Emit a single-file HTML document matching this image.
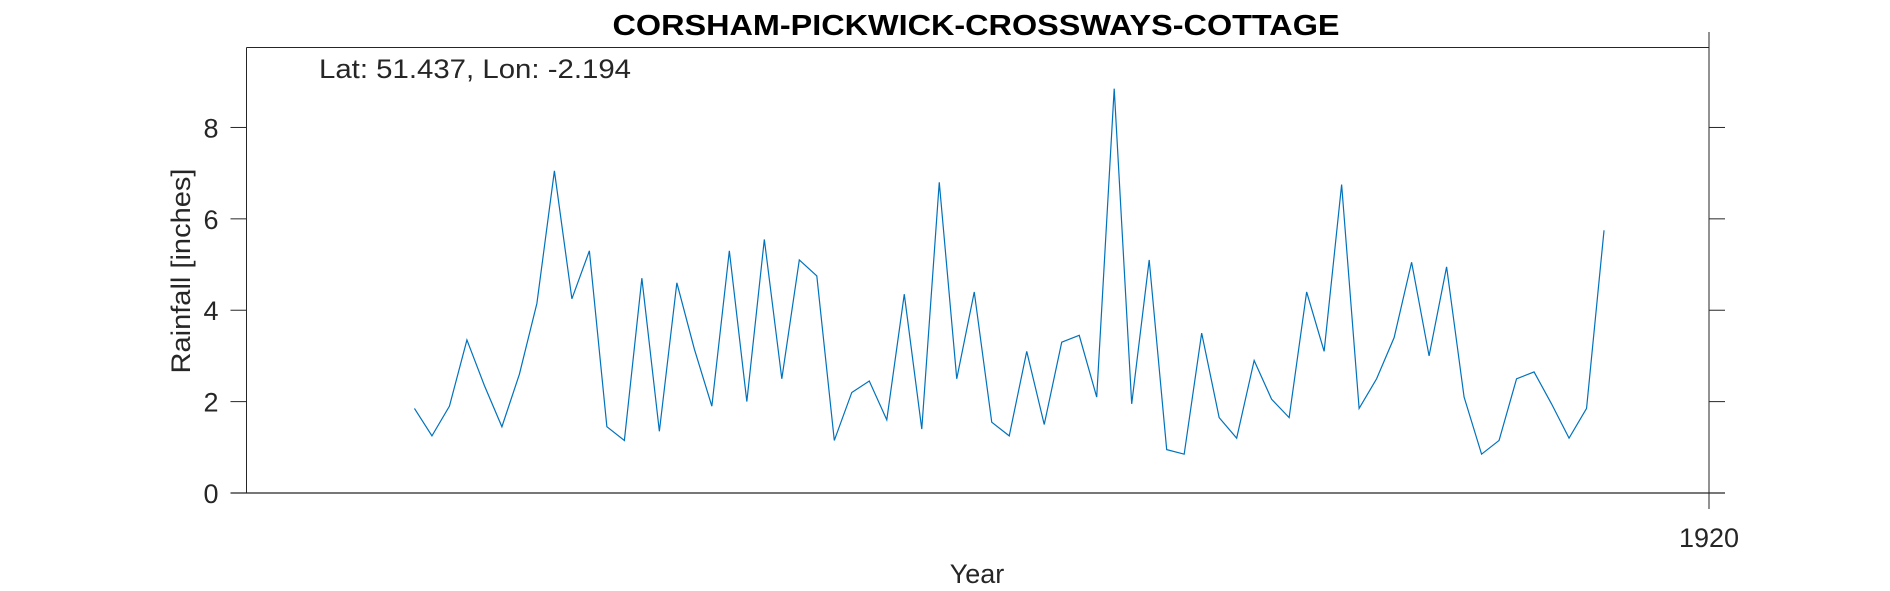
<!DOCTYPE html>
<html><head><meta charset="utf-8"><style>body{margin:0;background:#fff}svg{display:block}text{font-family:"Liberation Sans",Arial,sans-serif;fill:#262626}</style></head>
<body>
<svg id="chart" width="1890" height="591">
<text x="976" y="35" text-anchor="middle" font-size="29" font-weight="bold" style="fill:#000" textLength="727" lengthAdjust="spacingAndGlyphs">CORSHAM-PICKWICK-CROSSWAYS-COTTAGE</text>
<g id="axes"></g>
<text x="319" y="78" font-size="27" textLength="312" lengthAdjust="spacingAndGlyphs">Lat: 51.437, Lon: -2.194</text>
<text transform="translate(190,271) rotate(-90)" text-anchor="middle" font-size="27" textLength="205" lengthAdjust="spacingAndGlyphs">Rainfall [inches]</text>
<text x="977" y="583" text-anchor="middle" font-size="27">Year</text>
</svg>
<script>
const years=[];for(let y=1846;y<=1914;y++)years.push(y);
const rainfall=[1.85,1.25,1.9,3.35,2.35,1.45,2.6,4.15,7.05,4.25,5.3,1.45,1.15,4.7,1.35,4.6,3.15,1.9,5.3,2.0,5.55,2.5,5.1,4.75,1.15,2.2,2.45,1.6,4.35,1.4,6.8,2.5,4.4,1.55,1.25,3.1,1.5,3.3,3.45,2.1,8.85,1.95,5.1,0.95,0.85,3.5,1.65,1.2,2.9,2.05,1.65,4.4,3.1,6.75,1.85,2.5,3.4,5.05,3.0,4.95,2.1,0.85,1.15,2.5,2.65,1.95,1.2,1.85,5.75];
const yTicks=[0,2,4,6,8];
const xTicks=[1920];
const L=246.5,R=1709,T=47.5,B=493,xmin=1836.4,xmax=1920,ymax=9.75;
const X=v=>L+(v-xmin)/(xmax-xmin)*(R-L);
const Y=v=>B-v/ymax*(B-T);
const NS='http://www.w3.org/2000/svg';
const g=document.getElementById('axes');
function mk(t,a){const e=document.createElementNS(NS,t);for(const k in a)e.setAttribute(k,a[k]);g.appendChild(e);return e;}
let e;
e=mk('line',{x1:L,y1:T,x2:R,y2:T,stroke:'#262626','stroke-width':1});


e=mk('line',{x1:L,y1:T,x2:L,y2:B,stroke:'#262626','stroke-width':1});


e=mk('line',{x1:L-16,y1:B,x2:R+16,y2:B,stroke:'#262626','stroke-width':1.3});


yTicks.forEach(t=>{
 e=mk('line',{x1:L-16,y1:Y(t),x2:L,y2:Y(t),stroke:'#262626'});
 
 
 if(t>0){e=mk('line',{x1:R,y1:Y(t),x2:R+16,y2:Y(t),stroke:'#262626'});
 
 }
 e=mk('text',{x:L-28,y:Y(t)+10,'text-anchor':'end','font-size':27});
 e.textContent=t;
 
 
});
xTicks.forEach(t=>{
 e=mk('line',{x1:X(t),y1:32,x2:X(t),y2:509,stroke:'#262626'});
 
 
 e=mk('text',{x:X(t),y:547,'text-anchor':'middle','font-size':27});
 e.textContent=t;
 
 
});
e=mk('polyline',{points:years.map((y,i)=>X(y)+','+Y(rainfall[i])).join(' '),fill:'none',stroke:'#0072BD','stroke-width':1.2});


</script>
</body></html>
